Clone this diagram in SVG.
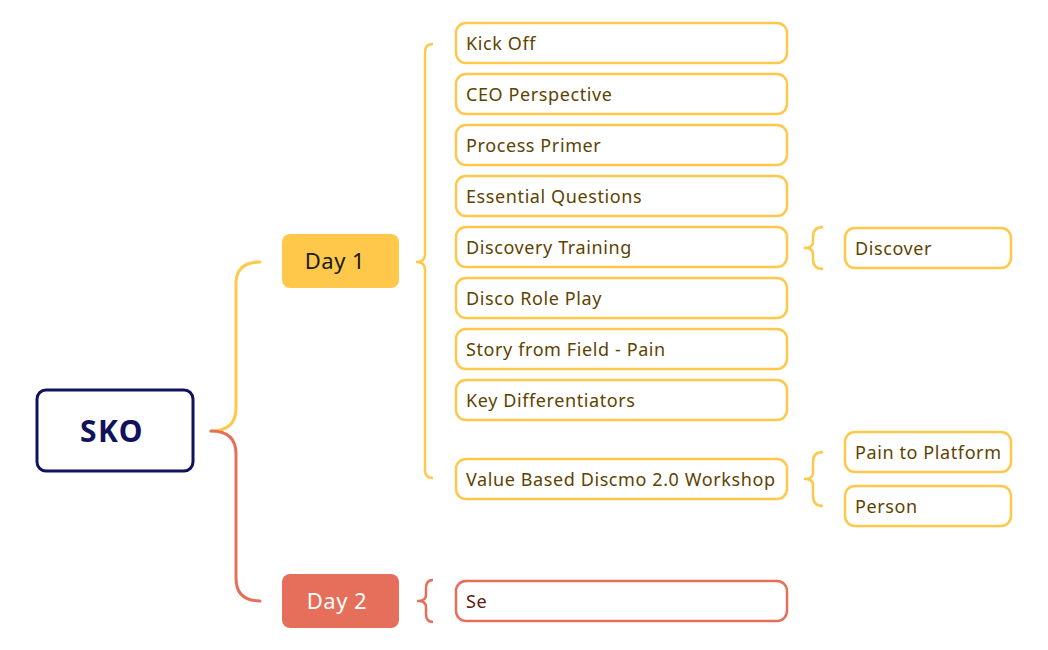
<svg xmlns="http://www.w3.org/2000/svg" width="1048" height="650" viewBox="0 0 1048 650">
<style>
text{font-family:"Noto Sans","Open Sans","Liberation Sans",sans-serif;}
.y{fill:#fff;stroke:#FFC84A;stroke-width:2.5;}
.r{fill:#fff;stroke:#E56F5A;stroke-width:2.5;}
.t{font-size:18px;letter-spacing:0.6px;fill:#5E4300;}
.tr{font-size:18px;letter-spacing:0.6px;fill:#5A1A10;}
.cy{fill:none;stroke:#FFC84A;stroke-width:3;stroke-linecap:round;stroke-linejoin:round;}
.cr{fill:none;stroke:#E56F5A;stroke-width:3;stroke-linecap:round;stroke-linejoin:round;}
.by{fill:none;stroke:#FFC84A;stroke-width:2.5;stroke-linejoin:round;}
.br{fill:none;stroke:#E56F5A;stroke-width:2.5;stroke-linejoin:round;}
</style>
<rect width="1048" height="650" fill="#fff"/>
<g id="connectors">
<path class="cy" d="M211,431 Q236,431 236,408 L236,284 Q236,262 260,262"/>
<path class="cr" d="M211,431 Q236,431 236,454 L236,578 Q236,601 260,601"/>
<path class="by" d="M433,44 Q425,44 425,52 L425,254 Q425,262 417,262 Q425,262 425,270 L425,470 Q425,478 433,478"/>
<path class="by" d="M823,227 Q813,227 813,237 L813,242 Q813,248 805,248 Q813,248 813,254 L813,259 Q813,269 823,269"/>
<path class="by" d="M823,452 Q813,452 813,462 L813,473 Q813,479 805,479 Q813,479 813,485 L813,496 Q813,506 823,506"/>
<path class="br" d="M433,580 Q426,580 426,588 L426,595 Q426,601 418,601 Q426,601 426,607 L426,614 Q426,622 433,622"/>
</g>
<g id="sko"><rect x="37" y="390" width="156" height="81" rx="9" fill="#fff" stroke="#10125E" stroke-width="3"/><text x="112" y="442" text-anchor="middle" font-size="30" font-weight="bold" letter-spacing="1.5" fill="#10125E">SKO</text></g>
<g id="day1"><rect x="282" y="234" width="117" height="54" rx="8" fill="#FFC84A"/><text x="335" y="269" text-anchor="middle" font-size="22" letter-spacing="0.5" fill="#1a1a1a">Day 1</text></g>
<g id="day2"><rect x="282" y="574" width="117" height="54" rx="8" fill="#E56F5A"/><text x="337" y="609" text-anchor="middle" font-size="22" letter-spacing="0.5" fill="#fff">Day 2</text></g>
<g id="n1"><rect class="y" x="456" y="23" width="331" height="40" rx="10"/><text class="t" x="466" y="50">Kick Off</text></g>
<g id="n2"><rect class="y" x="456" y="74" width="331" height="40" rx="10"/><text class="t" x="466" y="101">CEO Perspective</text></g>
<g id="n3"><rect class="y" x="456" y="125" width="331" height="40" rx="10"/><text class="t" x="466" y="152">Process Primer</text></g>
<g id="n4"><rect class="y" x="456" y="176" width="331" height="40" rx="10"/><text class="t" x="466" y="203">Essential Questions</text></g>
<g id="n5"><rect class="y" x="456" y="227" width="331" height="40" rx="10"/><text class="t" x="466" y="254">Discovery Training</text></g>
<g id="n6"><rect class="y" x="456" y="278" width="331" height="40" rx="10"/><text class="t" x="466" y="305">Disco Role Play</text></g>
<g id="n7"><rect class="y" x="456" y="329" width="331" height="40" rx="10"/><text class="t" x="466" y="356">Story from Field - Pain</text></g>
<g id="n8"><rect class="y" x="456" y="380" width="331" height="40" rx="10"/><text class="t" x="466" y="407">Key Differentiators</text></g>
<g id="n9"><rect class="y" x="456" y="459" width="331" height="40" rx="10"/><text class="t" x="466" y="486">Value Based Discmo 2.0 Workshop</text></g>
<g id="n10"><rect class="y" x="845" y="228" width="166" height="40" rx="10"/><text class="t" x="855" y="255">Discover</text></g>
<g id="n11"><rect class="y" x="845" y="432" width="166" height="40" rx="10"/><text class="t" x="855" y="459">Pain to Platform</text></g>
<g id="n12"><rect class="y" x="845" y="486" width="166" height="40" rx="10"/><text class="t" x="855" y="513">Person</text></g>
<g id="n13"><rect class="r" x="456" y="581" width="331" height="40" rx="10"/><text class="tr" x="466" y="608">Se</text></g>
</svg>
